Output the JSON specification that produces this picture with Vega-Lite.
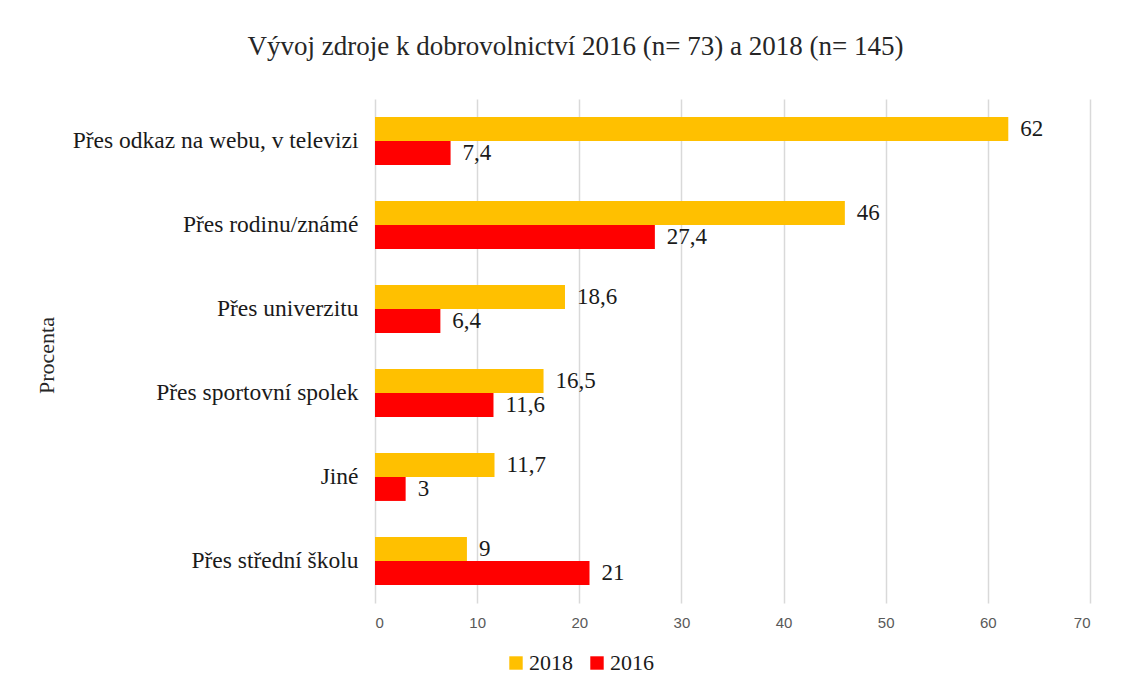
{
  "$schema": "https://vega.github.io/schema/vega-lite/v6.json",
  "autosize": {"type": "none"},
  "padding": {"left": 375, "top": 99, "right": 39, "bottom": 90},
  "width": 715,
  "height": 504,
  "background": "#ffffff",
  "config": {
    "view": {"stroke": null},
    "locale": {"number": {"decimal": ",", "thousands": " ", "grouping": [3], "currency": ["", " Kč"]}}
  },
  "title": {
    "text": "Vývoj zdroje k dobrovolnictví 2016 (n= 73) a 2018 (n= 145)",
    "font": "Liberation Serif",
    "fontSize": 27,
    "fontWeight": "normal",
    "color": "#262626",
    "anchor": "middle",
    "frame": "group",
    "dx": -157,
    "offset": 38
  },
  "data": {
    "values": [
      {"kategorie": "Přes odkaz na webu, v televizi", "rok": "2018", "hodnota": 62},
      {"kategorie": "Přes odkaz na webu, v televizi", "rok": "2016", "hodnota": 7.4},
      {"kategorie": "Přes rodinu/známé", "rok": "2018", "hodnota": 46},
      {"kategorie": "Přes rodinu/známé", "rok": "2016", "hodnota": 27.4},
      {"kategorie": "Přes univerzitu", "rok": "2018", "hodnota": 18.6},
      {"kategorie": "Přes univerzitu", "rok": "2016", "hodnota": 6.4},
      {"kategorie": "Přes sportovní spolek", "rok": "2018", "hodnota": 16.5},
      {"kategorie": "Přes sportovní spolek", "rok": "2016", "hodnota": 11.6},
      {"kategorie": "Jiné", "rok": "2018", "hodnota": 11.7},
      {"kategorie": "Jiné", "rok": "2016", "hodnota": 3},
      {"kategorie": "Přes střední školu", "rok": "2018", "hodnota": 9},
      {"kategorie": "Přes střední školu", "rok": "2016", "hodnota": 21}
    ]
  },
  "encoding": {
    "y": {
      "field": "kategorie",
      "type": "nominal",
      "sort": ["Přes odkaz na webu, v televizi", "Přes rodinu/známé", "Přes univerzitu", "Přes sportovní spolek", "Jiné", "Přes střední školu"],
      "scale": {"paddingInner": 0.43, "paddingOuter": 0.215},
      "axis": {
        "title": "Procenta",
        "titleFont": "Liberation Serif",
        "titleFontSize": 22,
        "titleFontWeight": "normal",
        "titleColor": "#262626",
        "titleX": -329,
        "titleY": 256,
        "titleAngle": -90,
        "titleAlign": "center",
        "titleBaseline": "middle",
        "labelFont": "Liberation Serif",
        "labelFontSize": 23.5,
        "labelColor": "#1a1a1a",
        "labelPadding": 17,
        "labelLimit": 400,
        "domain": false,
        "ticks": false
      }
    },
    "yOffset": {
      "field": "rok",
      "type": "nominal",
      "sort": ["2018", "2016"],
      "scale": {"paddingInner": 0, "paddingOuter": 0}
    },
    "x": {
      "field": "hodnota",
      "type": "quantitative",
      "scale": {"domain": [0, 70], "nice": false},
      "axis": {
        "title": null,
        "values": [0, 10, 20, 30, 40, 50, 60, 70],
        "labelFont": "Liberation Sans",
        "labelFontSize": 15,
        "labelColor": "#595959",
        "labelPadding": 12,
        "grid": true,
        "gridColor": "#d9d9d9",
        "gridWidth": 1.5,
        "domain": false,
        "ticks": false
      }
    }
  },
  "layer": [
    {
      "mark": {"type": "bar"},
      "encoding": {
        "color": {
          "field": "rok",
          "type": "nominal",
          "scale": {"domain": ["2018", "2016"], "range": ["#FFC000", "#FF0000"]},
          "legend": {
            "title": null,
            "orient": "none",
            "direction": "horizontal",
            "legendX": 130,
            "legendY": 553,
            "symbolType": "square",
            "symbolSize": 180,
            "symbolStrokeWidth": 0,
            "labelFont": "Liberation Serif",
            "labelFontSize": 22,
            "labelColor": "#1a1a1a",
            "labelOffset": 2,
            "columnPadding": 13
          }
        }
      }
    },
    {
      "mark": {
        "type": "text",
        "align": "left",
        "baseline": "middle",
        "dx": 12,
        "font": "Liberation Serif",
        "fontSize": 23,
        "color": "#1a1a1a"
      },
      "encoding": {
        "text": {"field": "hodnota", "type": "quantitative", "format": ",.1~f"}
      }
    }
  ]
}
